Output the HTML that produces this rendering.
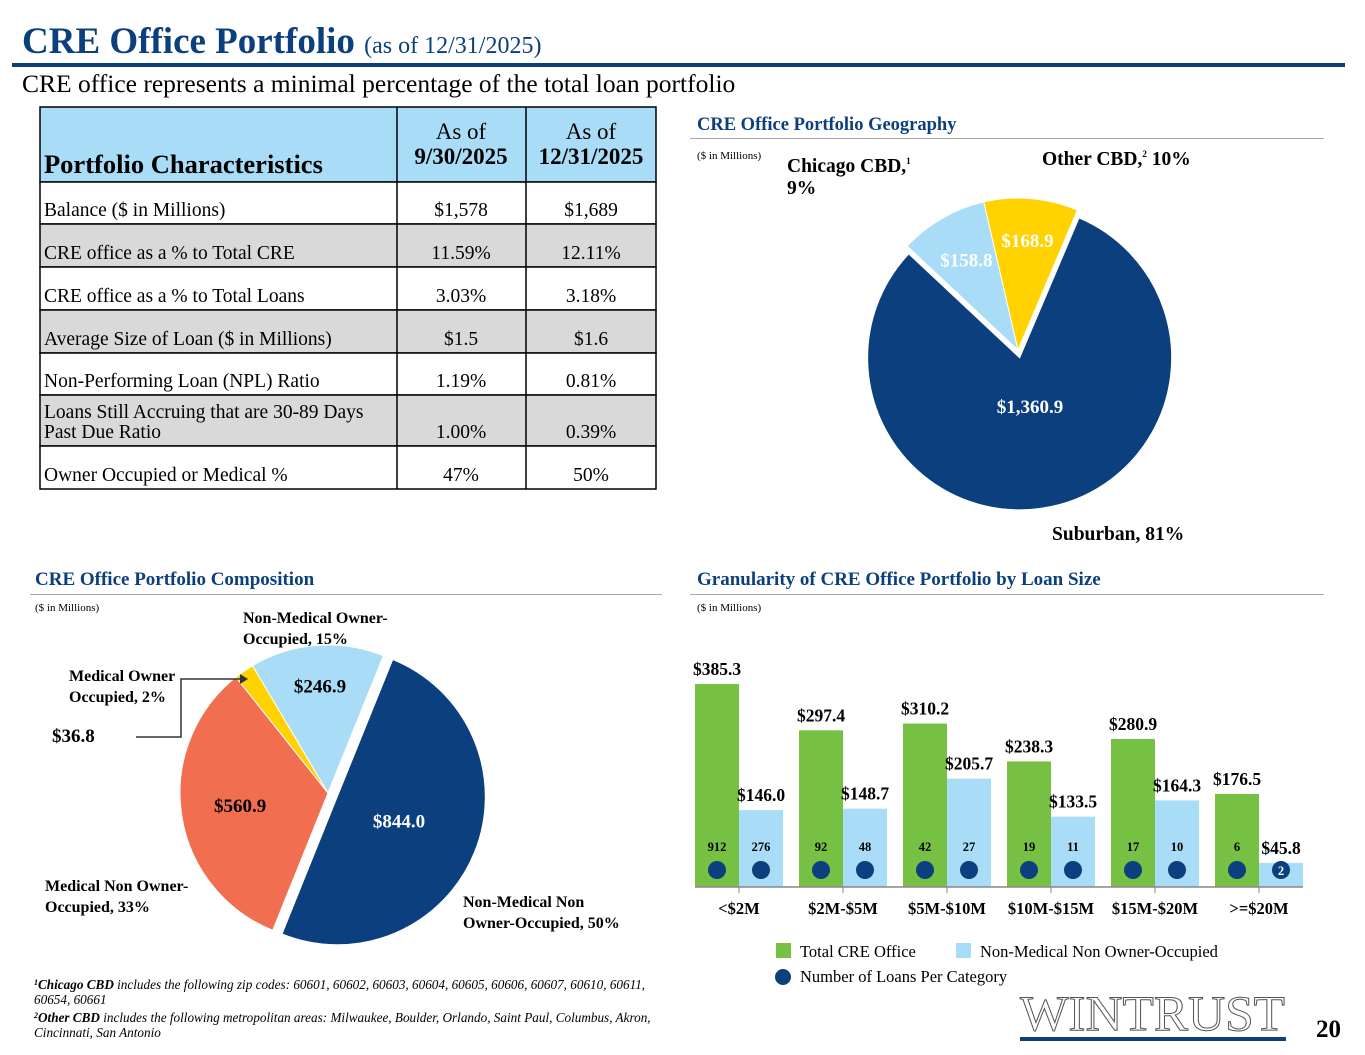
<!DOCTYPE html>
<html><head><meta charset="utf-8"><style>
body{margin:0;background:#fff;}
svg{display:block;font-family:"Liberation Serif",serif;}
</style></head><body>
<svg id="s" width="1365" height="1055" viewBox="0 0 1365 1055" xmlns="http://www.w3.org/2000/svg">
<text x="22" y="53" font-size="37" font-weight="bold" fill="#0B3F7E">CRE Office Portfolio <tspan font-size="24" font-weight="normal">(as of 12/31/2025)</tspan></text>
<rect x="12" y="63" width="1333" height="4" fill="#0B3F7E"/>
<text x="22" y="92" font-size="25.5" fill="#000">CRE office represents a minimal percentage of the total loan portfolio</text>

<g id="table"></g>

<text x="697" y="130" font-size="18.5" font-weight="bold" fill="#0B3F7E">CRE Office Portfolio Geography</text>
<rect x="690" y="138" width="634" height="1" fill="#aaa"/>
<text x="697" y="159" font-size="11">($ in Millions)</text>
<g id="geo"></g>
<text x="787" y="172" font-size="19.5" font-weight="bold">Chicago CBD,<tspan font-size="9" dy="-8">1</tspan><tspan x="787" dy="30">9%</tspan></text>
<text x="1042" y="165" font-size="19.5" font-weight="bold">Other CBD,<tspan font-size="9" dy="-8">2</tspan><tspan dy="8"> 10%</tspan></text>
<text x="1052" y="540" font-size="19.5" font-weight="bold">Suburban, 81%</text>

<text x="35" y="585" font-size="19" font-weight="bold" fill="#0B3F7E">CRE Office Portfolio Composition</text>
<rect x="30" y="594" width="632" height="1" fill="#aaa"/>
<text x="35" y="611" font-size="11">($ in Millions)</text>
<g id="comp"></g>
<text x="243" y="623" font-size="16" font-weight="bold">Non-Medical Owner-<tspan x="243" dy="21">Occupied, 15%</tspan></text>
<text x="69" y="681" font-size="16" font-weight="bold">Medical Owner<tspan x="69" dy="21">Occupied, 2%</tspan></text>
<text x="52" y="742" font-size="19" font-weight="bold">$36.8</text>
<polyline points="136,737 181,737 181,679 240,679" fill="none" stroke="#333" stroke-width="1.5"/>
<polygon points="240,674 248,679 240,684" fill="#333"/>
<text x="45" y="891" font-size="16" font-weight="bold">Medical Non Owner-<tspan x="45" dy="21">Occupied, 33%</tspan></text>
<text x="463" y="907" font-size="16" font-weight="bold">Non-Medical Non<tspan x="463" dy="21">Owner-Occupied, 50%</tspan></text>

<text x="697" y="585" font-size="19" font-weight="bold" fill="#0B3F7E">Granularity of CRE Office Portfolio by Loan Size</text>
<rect x="690" y="594" width="634" height="1" fill="#aaa"/>
<text x="697" y="611" font-size="11">($ in Millions)</text>
<g id="bars"></g>
<rect x="776" y="943" width="15" height="15" fill="#76C043"/>
<text x="800" y="957" font-size="16.5">Total CRE Office</text>
<rect x="956" y="943" width="15" height="15" fill="#A9DCF7"/>
<text x="980" y="957" font-size="16.5">Non-Medical Non Owner-Occupied</text>
<circle cx="783" cy="977" r="8" fill="#0B3F7E"/>
<text x="800" y="982" font-size="16.5">Number of Loans Per Category</text>

<text x="34" y="989" font-size="13.2" font-style="italic"><tspan font-size="8" dy="-4" font-weight="bold">1</tspan><tspan dy="4" font-weight="bold">Chicago CBD</tspan> includes the following zip codes: 60601, 60602, 60603, 60604, 60605, 60606, 60607, 60610, 60611,<tspan x="34" dy="15">60654, 60661</tspan></text>
<text x="34" y="1022" font-size="13.2" font-style="italic"><tspan font-size="8" dy="-4" font-weight="bold">2</tspan><tspan dy="4" font-weight="bold">Other CBD</tspan> includes the following metropolitan areas: Milwaukee, Boulder, Orlando, Saint Paul, Columbus, Akron,<tspan x="34" dy="15">Cincinnati, San Antonio</tspan></text>

<text x="1020" y="1030" font-size="50" fill="#fff" stroke="#555" stroke-width="1" textLength="265" lengthAdjust="spacingAndGlyphs">WINTRUST</text>
<rect x="1020" y="1037" width="266" height="4" fill="#0B3F7E"/>
<text x="1316" y="1037" font-size="25" font-weight="bold">20</text>
</svg>
<script>
const NS="http://www.w3.org/2000/svg";
function mk(p,t,a){const e=document.createElementNS(NS,t);for(const k in a)e.setAttribute(k,a[k]);p.appendChild(e);return e;}

// Table
const rowLabels=["Balance ($ in Millions)","CRE office as a % to Total CRE","CRE office as a % to Total Loans","Average Size of Loan ($ in Millions)","Non-Performing Loan (NPL) Ratio","Loans Still Accruing that are 30-89 Days|Past Due Ratio","Owner Occupied or Medical %"];
const colQ3=["$1,578","11.59%","3.03%","$1.5","1.19%","1.00%","47%"];
const colQ4=["$1,689","12.11%","3.18%","$1.6","0.81%","0.39%","50%"];
const tb=document.getElementById('table');
const rowY=[182,224,267,310,353,395,446,489];
let h=mk(tb,'rect',{x:40,y:107,width:616,height:75,fill:'#A9DDF7',stroke:'#000','stroke-width':1.5});


let t=mk(tb,'text',{x:44,y:173,'font-size':26.5,'font-weight':'bold'});t.textContent="Portfolio Characteristics";


[[461,"9/30/2025"],[591,"12/31/2025"]].forEach(([cx,d],i)=>{
 let a=mk(tb,'text',{x:cx,y:139,'font-size':23,'text-anchor':'middle'});a.textContent="As of";
 
 
 let b=mk(tb,'text',{x:cx,y:164,'font-size':23,'font-weight':'bold','text-anchor':'middle'});b.textContent=d;
 
 
});
rowLabels.forEach((lab,i)=>{
 const y0=rowY[i],y1=rowY[i+1];
 let r=mk(tb,'rect',{x:40,y:y0,width:616,height:y1-y0,fill:i%2?'#D9D9D9':'#fff',stroke:'#000','stroke-width':1.5});
 
 
 const parts=lab.split('|');
 parts.forEach((p,j)=>{let e=mk(tb,'text',{x:44,y:y1-8-(parts.length-1-j)*20,'font-size':19.5});e.textContent=p;
  
  });
 [[461,colQ3[i]],[591,colQ4[i]]].forEach(([cx,v])=>{let e=mk(tb,'text',{x:cx,y:y1-8,'font-size':19.5,'text-anchor':'middle'});e.textContent=v;
  
  });
});
mk(tb,'line',{x1:397,y1:107,x2:397,y2:489,stroke:'#000','stroke-width':1.5});
mk(tb,'line',{x1:526,y1:107,x2:526,y2:489,stroke:'#000','stroke-width':1.5});

// Pies
function pie(g,cx,cy,r,vals,colors,labels,start,explode,labelCols,labelR){
 const tot=vals.reduce((a,b)=>a+b,0);let a=start;
 vals.forEach((v,i)=>{
  const sw=v/tot*360, a1=a+sw, mid=(a+a1)/2*Math.PI/180;
  const ex=explode[i], ox=cx+ex*Math.sin(mid), oy=cy-ex*Math.cos(mid);
  const p=ang=>[ox+r*Math.sin(ang*Math.PI/180),oy-r*Math.cos(ang*Math.PI/180)];
  const [x0,y0]=p(a),[x1,y1]=p(a1);
  const s=mk(g,'path',{d:`M${ox},${oy}L${x0},${y0}A${r},${r} 0 ${sw>180?1:0} 1 ${x1},${y1}Z`,fill:colors[i],stroke:'#fff','stroke-width':1});
  
  
  const lr=labelR[i]*r;
  const l=mk(g,'text',{x:ox+lr*Math.sin(mid),y:oy-lr*Math.cos(mid)+6,'font-size':19,'font-weight':'bold','text-anchor':'middle',fill:labelCols[i],'font-family':'Liberation Serif, serif'});
  l.textContent=labels[i];
  
  
  a=a1;
 });
}
const geoValues=[1360.9,158.8,168.9];
const geoLabels=["$1,360.9","$158.8","$168.9"];
pie(document.getElementById('geo'),1018,350,152,geoValues,['#0B3F7E','#A9DCF7','#FFD200'],geoLabels,23,[8,0,0],['#fff','#fff','#fff'],[0.33,0.68,0.72]);
const compValues=[844.0,560.9,36.8,246.9];
const compLabels=["$844.0","$560.9","","$246.9"];
pie(document.getElementById('comp'),328,793,148,compValues,['#0B3F7E','#F26E50','#FFD200','#A9DCF7'],compLabels,22,[10,0,0,0],['#fff','#000','#000','#000'],[0.45,0.6,0.7,0.72]);

// Bars
const categories=["<$2M","$2M-$5M","$5M-$10M","$10M-$15M","$15M-$20M",">=$20M"];
const totalVals=[385.3,297.4,310.2,238.3,280.9,176.5];
const nonMedVals=[146.0,148.7,205.7,133.5,164.3,45.8];
const totalCounts=[912,92,42,19,17,6];
const nonMedCounts=[276,48,27,11,10,2];
const bg=document.getElementById('bars');
const base=887, yS=v=>base-v*(203/385.3), xC=i=>739+i*104, bw=44;
categories.forEach((c,i)=>{
 const cx=xC(i);
 [[totalVals[i],totalCounts[i],cx-bw,'#76C043','bar-total'],[nonMedVals[i],nonMedCounts[i],cx,'#A9DCF7','bar-nonmed']].forEach(([v,n,x,col,nm],k)=>{
  const y=yS(v);
  const b=mk(bg,'rect',{x:x,y:y,width:bw,height:base-y,fill:col});
  
  
  const lbl=mk(bg,'text',{x:x+bw/2,y:y-9,'font-size':17.5,'font-weight':'bold','text-anchor':'middle'});
  lbl.textContent='$'+v.toFixed(1);
  
  
  const d=mk(bg,'circle',{cx:x+bw/2,cy:870,r:9,fill:'#0B3F7E'});
  
  
  const inside=(base-y)<30;
  const ct=mk(bg,'text',{x:x+bw/2,y:inside?875:851,'font-size':12.5,'font-weight':'bold','text-anchor':'middle',fill:inside?'#fff':'#000'});
  ct.textContent=n;
  
  
 });
 const tl=mk(bg,'text',{x:cx,y:914,'font-size':16.5,'font-weight':'bold','text-anchor':'middle'});
 tl.textContent=c;
 
 
 mk(bg,'line',{x1:cx,y1:base,x2:cx,y2:base+6,stroke:'#888'});
});
const ax=mk(bg,'line',{x1:695,y1:base,x2:1303,y2:base,stroke:'#888','stroke-width':1.5});


</script>
</body></html>
